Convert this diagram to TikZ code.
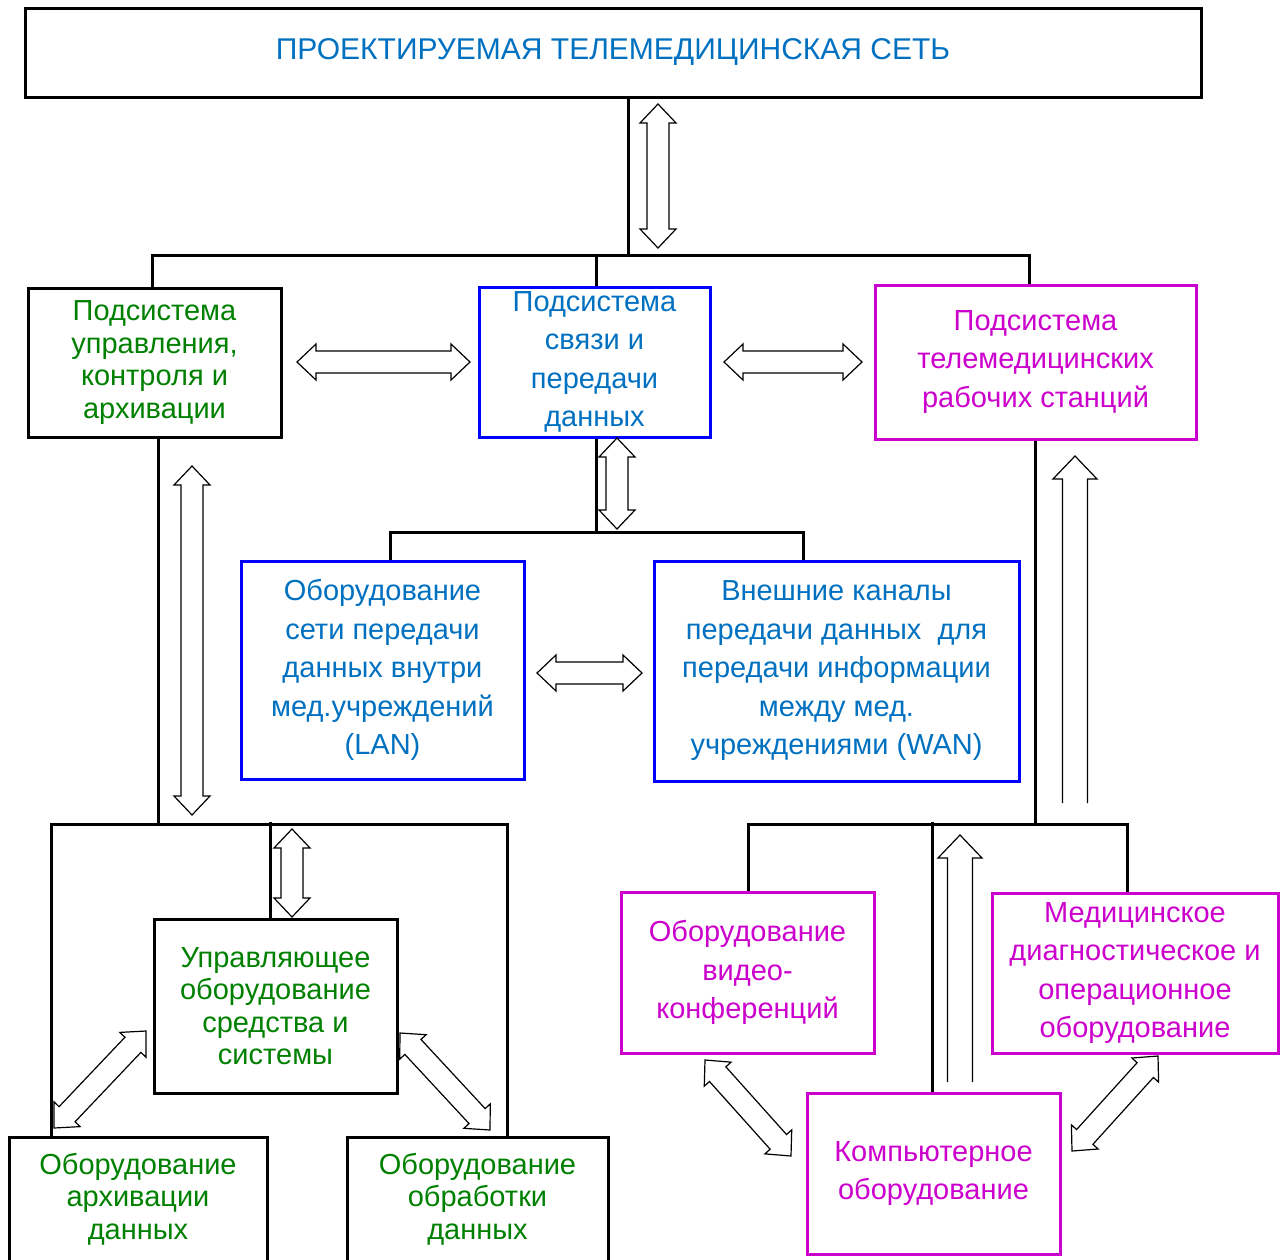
\documentclass[tikz,border=0pt]{standalone}
\usepackage{fontspec}
\setmainfont{Liberation Sans}
\usetikzlibrary{calc}
\definecolor{tblue}{HTML}{0070C0}
\definecolor{bblue}{HTML}{0000FF}
\definecolor{tgreen}{HTML}{008000}
\definecolor{tmag}{HTML}{CC00CC}

% hollow two-headed arrow between two named points
\newcommand{\hollowpair}[2]{%
  \draw[harrow] (#1)
    -- ($(#1)!19pt!(#2)!18pt!90:(#2)$)
    -- ($(#1)!19pt!(#2)!11pt!90:(#2)$)
    -- ($(#2)!19pt!(#1)!11pt!-90:(#1)$)
    -- ($(#2)!19pt!(#1)!18pt!-90:(#1)$)
    -- (#2)
    -- ($(#2)!19pt!(#1)!18pt!90:(#1)$)
    -- ($(#2)!19pt!(#1)!11pt!90:(#1)$)
    -- ($(#1)!19pt!(#2)!11pt!-90:(#2)$)
    -- ($(#1)!19pt!(#2)!18pt!-90:(#2)$)
    -- cycle;}
% hollow one-headed arrow with an open tail: #1 tail, #2 tip
\newcommand{\hollowsingle}[2]{%
  \draw[harrow] ($(#1)!12.5pt!90:(#2)$)
    -- ($(#2)!23pt!(#1)!12.5pt!-90:(#1)$)
    -- ($(#2)!23pt!(#1)!22pt!-90:(#1)$)
    -- (#2)
    -- ($(#2)!23pt!(#1)!22pt!90:(#1)$)
    -- ($(#2)!23pt!(#1)!12.5pt!90:(#1)$)
    -- ($(#1)!12.5pt!-90:(#2)$);}

\begin{document}
\begin{tikzpicture}[x=1pt,y=-1pt,
  box/.style={draw, line width=3pt, inner sep=0pt, align=center,
    font=\fontsize{29}{38.5}\selectfont},
  greenbox/.style={box, draw=black, text=tgreen,
    font=\fontsize{29}{32.5}\selectfont},
  bluebox/.style={box, draw=bblue, text=tblue},
  magbox/.style={box, draw=tmag, text=tmag},
  wire/.style={line width=3pt, draw=black, line join=miter},
  harrow/.style={line width=1.2pt, draw=black, fill=white, line join=miter}]
\useasboundingbox (0,0) rectangle (1285,1259);
\clip (0,0) rectangle (1285,1259);

% boxes
\node[box, text=tblue, minimum width=1176pt, minimum height=89pt,
  font=\fontsize{30}{36}\selectfont] (top) at (613,52.5)
  {\raisebox{-2pt}{ПРОЕКТИРУЕМАЯ ТЕЛЕМЕДИЦИНСКАЯ СЕТЬ}};
\node[greenbox, minimum width=253pt, minimum height=149pt] (ctrl) at (154.5,362.5)
  {Подсистема\\управления,\\контроля и\\архивации};
\node[bluebox, minimum width=231pt, minimum height=150pt] (comm) at (594.5,362)
  {Подсистема\\связи и\\передачи\\данных};
\node[magbox, minimum width=321pt, minimum height=154pt] (ws) at (1035.5,362)
  {Подсистема\\телемедицинских\\рабочих станций};
\node[bluebox, minimum width=283pt, minimum height=218pt] (lan) at (382.5,670)
  {Оборудование\\сети передачи\\данных внутри\\мед.учреждений\\(LAN)};
\node[bluebox, minimum width=365pt, minimum height=220pt] (wan) at (836.5,671)
  {Внешние каналы\\передачи данных~ для\\передачи информации\\между мед.\\учреждениями (WAN)};
\node[greenbox, minimum width=243pt, minimum height=174pt] (ctleq) at (275.5,1006)
  {Управляющее\\оборудование\\средства и\\системы};
\node[greenbox, minimum width=258pt, minimum height=124pt] (arch) at (138,1199)
  {Оборудование\\архивации\\данных};
\node[greenbox, minimum width=261pt, minimum height=124pt] (proc) at (477.5,1199)
  {Оборудование\\обработки\\данных};
\node[magbox, minimum width=253pt, minimum height=161pt] (video) at (747.5,972.5)
  {Оборудование\\видео-\\конференций};
\node[magbox, minimum width=286pt, minimum height=160pt] (med) at (1135,973)
  {Медицинское\\диагностическое и\\операционное\\оборудование};
\node[magbox, minimum width=253pt, minimum height=161pt] (comp) at (933.5,1173.5)
  {Компьютерное\\оборудование};

% bus junctions
\coordinate (j0) at (628,255);
\coordinate (tA) at (152,255);
\coordinate (tB) at (596,255);
\coordinate (tC) at (1029,255);
\coordinate (mA) at (390,532);
\coordinate (mB) at (803,532);
\coordinate (mC) at (596,532);
\coordinate (lA) at (51,824);
\coordinate (lB) at (507,824);
\coordinate (lC) at (158,824);
\coordinate (lD) at (270,822);
\coordinate (rA) at (748,824);
\coordinate (rB) at (1127,824);
\coordinate (rC) at (1035,824);
\coordinate (rD) at (932,822);

% connecting lines
\draw[wire] (j0 |- top.south) -- (j0);
\draw[wire] (tA |- ctrl.north) -- (tA) -- (tC) -- (tC |- ws.north);
\draw[wire] (tB) -- (tB |- comm.north);
\draw[wire] (mC |- comm.south) -- (mC);
\draw[wire] (mA |- lan.north) -- (mA) -- (mB) -- (mB |- wan.north);
\draw[wire] (lC |- ctrl.south) -- (lC);
\draw[wire] (lA |- arch.north) -- (lA) -- (lB) -- (lB |- proc.north);
\draw[wire] (lD) -- (lD |- ctleq.north);
\draw[wire] (rC |- ws.south) -- (rC);
\draw[wire] (rA |- video.north) -- (rA) -- (rB) -- (rB |- med.north);
\draw[wire] (rD) -- (rD |- comp.north);

% ends of the hollow arrows
\coordinate (a1s) at (658,104);  \coordinate (a1e) at (658,248);
\coordinate (a2s) at (297,362);  \coordinate (a2e) at (470,362);
\coordinate (a3s) at (724,362);  \coordinate (a3e) at (862,362);
\coordinate (a4s) at (192,466);  \coordinate (a4e) at (192,815);
\coordinate (a5s) at (617,438);  \coordinate (a5e) at (617,529);
\coordinate (a6s) at (537,673);  \coordinate (a6e) at (642,673);
\coordinate (a7s) at (1075,803); \coordinate (a7e) at (1075,456);
\coordinate (a8s) at (292,829);  \coordinate (a8e) at (292,917);
\coordinate (a9s) at (54,1128);  \coordinate (a9e) at (146,1031);
\coordinate (a10s) at (400,1033); \coordinate (a10e) at (490,1130);
\coordinate (a11s) at (960,1082); \coordinate (a11e) at (960,835);
\coordinate (a12s) at (705,1060); \coordinate (a12e) at (791,1156);
\coordinate (a13s) at (1158,1056); \coordinate (a13e) at (1072,1151);

\hollowpair{a1s}{a1e}
\hollowpair{a2s}{a2e}
\hollowpair{a3s}{a3e}
\hollowpair{a4s}{a4e}
\hollowpair{a5s}{a5e}
\hollowpair{a6s}{a6e}
\hollowsingle{a7s}{a7e}
\hollowpair{a8s}{a8e}
\hollowpair{a9s}{a9e}
\hollowpair{a10s}{a10e}
\hollowsingle{a11s}{a11e}
\hollowpair{a12s}{a12e}
\hollowpair{a13s}{a13e}
\end{tikzpicture}
\end{document}
